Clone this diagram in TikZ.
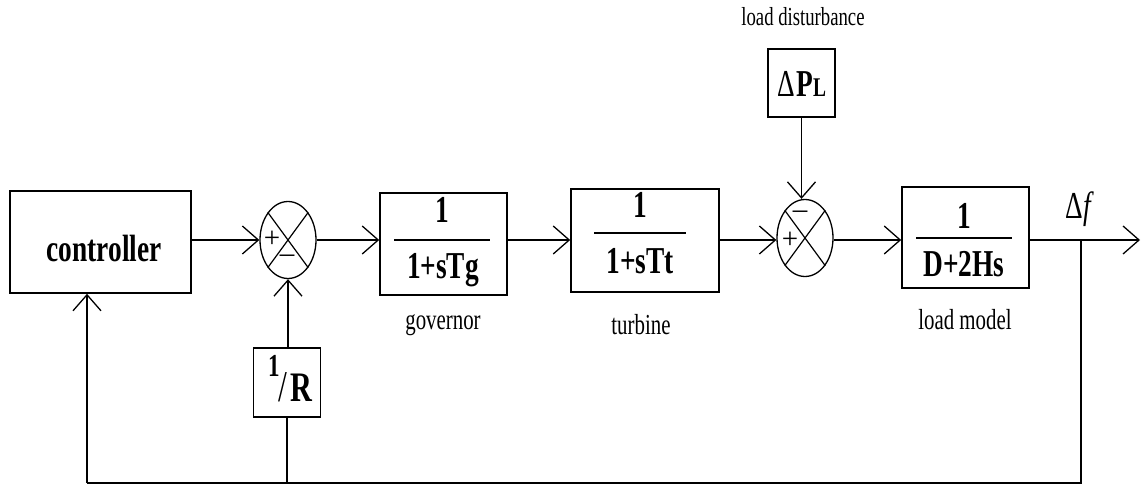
\documentclass[tikz,border=0pt]{standalone}
\usepackage{fontspec}
\setmainfont[FakeStretch=0.72]{Liberation Serif}
\newfontfamily\signfont{Liberation Serif}
\usetikzlibrary{arrows.meta,shapes.geometric}
\begin{document}
\begin{tikzpicture}[x=1pt,y=-1pt,
  blk/.style={draw, line width=1.6pt, inner sep=0pt},
  sumj/.style={draw, ellipse, line width=1.3pt, inner sep=0pt, minimum width=56pt, minimum height=77pt},
  conn/.style={line width=1.4pt},
  arr/.style={conn, -{Straight Barb[length=16pt,width=28pt,line width=1.3pt]}},
  bigb/.style={font=\fontsize{38}{38}\selectfont\bfseries, inner sep=0pt},
  lab/.style={font=\fontsize{29}{29}\selectfont, inner sep=0pt},
  sgn/.style={font=\signfont\fontsize{29}{29}\selectfont, inner sep=0pt}]
\useasboundingbox (0,0) rectangle (1141,486);
% blocks
\node[blk, minimum width=181pt, minimum height=102pt] (ctrl) at (100.5,242) {};
\node[bigb, anchor=base] (ctrltxt) at (104,262) {controller};
\node[sumj] (s1) at (288,240) {};
\draw[line width=1.2pt] (s1.north west) -- (s1.south east) (s1.north east) -- (s1.south west);
\node[sgn] (s1p) at (272,239) {+};
\node[sgn] (s1m) at (287,259) {\textendash};
\node[blk, minimum width=127pt, minimum height=102pt] (gov) at (443.5,244) {};
\node[bigb, anchor=base] (govn) at (442,223) {1};
\draw[line width=1.6pt] (394,240) -- (490,240);
\node[bigb, anchor=base] (govd) at (443,279) {1+sTg};
\node[lab] (govl) at (443,325) {governor};
\node[blk, minimum width=148pt, minimum height=103pt] (turb) at (645,240.5) {};
\node[bigb, anchor=base] (turbn) at (640,218) {1};
\draw[line width=1.6pt] (594,233) -- (686,233);
\node[bigb, anchor=base] (turbd) at (640,274) {1+sTt};
\node[lab] (turbl) at (641,325) {turbine};
\node[sumj] (s2) at (805,238) {};
\draw[line width=1.2pt] (s2.north west) -- (s2.south east) (s2.north east) -- (s2.south west);
\node[sgn] (s2m) at (800,215) {\textendash};
\node[sgn] (s2p) at (790,240) {+};
\node[blk, minimum width=67pt, minimum height=68pt] (dpl) at (801.5,83) {};
\node[inner sep=0pt, anchor=base] (dpltxt) at (802,97) {\fontsize{38}{38}\selectfont Δ\kern1pt\bfseries P\fontsize{27}{27}\selectfont L};
\node[lab, font=\fontsize{26}{26}\selectfont] (dlab) at (803,17) {load disturbance};
\node[blk, minimum width=127pt, minimum height=101pt] (load) at (965.5,237.5) {};
\node[bigb, anchor=base] (loadn) at (964,229) {1};
\draw[line width=1.6pt] (916,238) -- (1012,238);
\node[bigb, anchor=base] (loadd) at (964,277) {D+2Hs};
\node[lab] (loadl) at (965,320) {load model};
\node[inner sep=0pt, anchor=base] (df) at (1080,219) {\fontsize{38}{38}\selectfont Δ\kern1pt\textit{f}};
\node[blk, minimum width=67pt, minimum height=69pt] (rinv) at (287,382.5) {};
\node[inner sep=0pt, anchor=base, font=\fontsize{32}{32}\selectfont\bfseries] (rone) at (274,377) {1};
\node[inner sep=0pt, anchor=base, font=\fontsize{44}{44}\selectfont] (rsl) at (283,401) {/};
\node[inner sep=0pt, anchor=base, font=\fontsize{42}{42}\selectfont\bfseries] (rR) at (301,402) {R};
% coordinates
\coordinate (out) at (1140,240);
\coordinate (br) at (1081,240);
\coordinate (fbr) at (1081,483);
\coordinate (fbl) at (87,483);
% connectors
\draw[arr] (ctrl.east |- s1.west) -- (s1.west);
\draw[arr] (s1.east) -- (s1.east -| gov.west);
\draw[arr] (gov.east |- s1.east) -- (s1.east -| turb.west);
\draw[arr] (turb.east |- s1.east) -- (s1.east -| s2.west);
\draw[arr] (s2.east |- s1.east) -- (s1.east -| load.west);
\draw[arr] (load.east |- s1.east) -- (out);
\draw[arr] (dpl.south) -- (dpl.south |- s2.north);
\draw[arr] (s1.south |- rinv.north) -- (s1.south);
\draw[conn] (br) -- (fbr) -- (fbl);
\draw[arr] (fbl) -- (fbl |- ctrl.south);
\draw[conn] (rinv.south) -- (rinv.south |- fbl);
\end{tikzpicture}
\end{document}
